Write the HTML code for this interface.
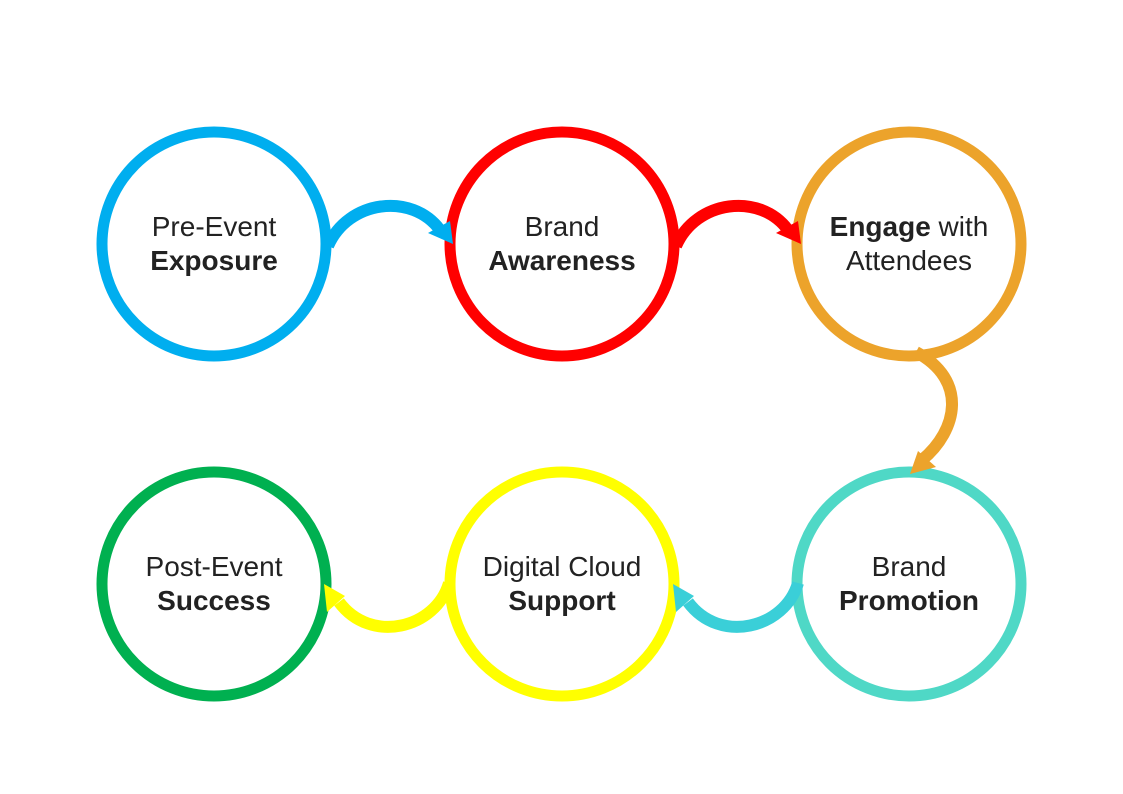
<!DOCTYPE html>
<html><head><style>
body{margin:0;background:#fff;}
svg{display:block}
text{font-family:"Liberation Sans",Arial,sans-serif;font-size:28px;fill:#222;text-anchor:middle}
.b{font-weight:bold}
</style></head><body>
<svg width="1123" height="794" viewBox="0 0 1123 794">
<g fill="none" stroke-width="11">
<circle cx="214" cy="244" r="112" stroke="#00AEEF"/>
<circle cx="562" cy="244" r="112" stroke="#FF0000"/>
<circle cx="909" cy="244" r="112" stroke="#ECA32B"/>
<circle cx="214" cy="584" r="112" stroke="#00B050"/>
<circle cx="562" cy="584" r="112" stroke="#FFFF00"/>
<circle cx="909" cy="584" r="112" stroke="#4FD8C6"/>
</g>
<g fill="none" stroke-width="12">
<path d="M328 246 C348 200,412 192,440 230" stroke="#00AEEF"/>
<path d="M676 246 C696 200,760 192,788 230" stroke="#FF0000"/>
<path d="M916 352 C968 380,958 430,922 460" stroke="#ECA32B"/>
<path d="M798 583 C785 628,720 645,688 602" stroke="#3ACFD8"/>
<path d="M449 583 C436 628,371 645,339 602" stroke="#FFFF00"/>
</g>
<polygon points="428,233 450,221 453,244" fill="#00AEEF"/>
<polygon points="776,233 798,221 801,244" fill="#FF0000"/>
<polygon points="918,451 936,467 910,474" fill="#ECA32B"/>
<polygon points="673,584 694,596 676,612" fill="#3ACFD8"/>
<polygon points="324,584 345,596 327,612" fill="#FFFF00"/>
<text x="214" y="236">Pre-Event</text>
<text x="214" y="270" class="b">Exposure</text>
<text x="562" y="236">Brand</text>
<text x="562" y="270" class="b">Awareness</text>
<text x="909" y="236"><tspan class="b">Engage</tspan> with</text>
<text x="909" y="270">Attendees</text>
<text x="214" y="576">Post-Event</text>
<text x="214" y="610" class="b">Success</text>
<text x="562" y="576">Digital Cloud</text>
<text x="562" y="610" class="b">Support</text>
<text x="909" y="576">Brand</text>
<text x="909" y="610" class="b">Promotion</text>
</svg>
</body></html>
